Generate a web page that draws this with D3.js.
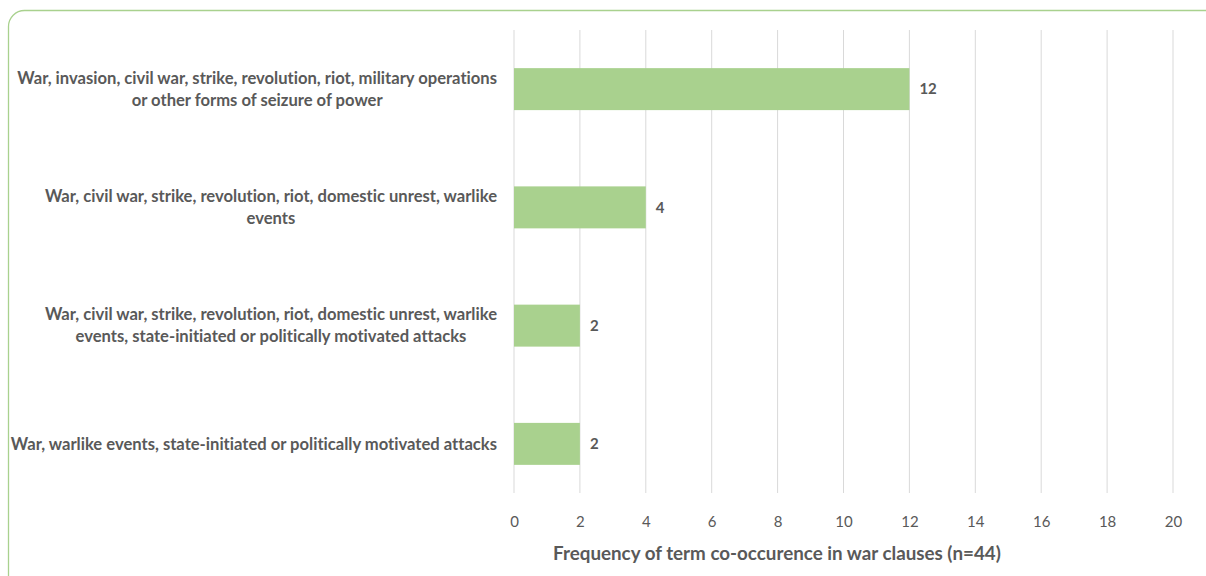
<!DOCTYPE html>
<html><head><meta charset="utf-8">
<script src="https://cdn.jsdelivr.net/npm/d3@7"></script>
<style>body{margin:0;background:#fff;} svg{display:block;} text{font-variant-ligatures:none;font-feature-settings:"liga" 0,"dlig" 0;}</style>
</head><body>
<svg id="c" width="1206" height="576"></svg>
<script>
const categories = [
  ["War, invasion, civil war, strike, revolution, riot, military operations", "or other forms of seizure of power"],
  ["War, civil war, strike, revolution, riot, domestic unrest, warlike", "events"],
  ["War, civil war, strike, revolution, riot, domestic unrest, warlike", "events, state-initiated or politically motivated attacks"],
  ["War, warlike events, state-initiated or politically motivated attacks"]
];
const values = [12, 4, 2, 2];
const tickValues = [0, 2, 4, 6, 8, 10, 12, 14, 16, 18, 20];
const axisTitle = "Frequency of term co-occurence in war clauses (n=44)";

const svg = d3.select("#c");
const FONT = "Lato, 'Open Sans', sans-serif";
const TXT = "#595959";
const GREEN = "#a9d18e";

// outer rounded frame
svg.append("rect").attr("x", 8.5).attr("y", 10.5).attr("width", 1240).attr("height", 600)
  .attr("rx", 16).attr("fill", "none").attr("stroke", GREEN).attr("stroke-width", 1.3);

const x = d3.scaleLinear().domain([0, 20]).range([514, 1173]);
const y = d3.scaleBand().domain(d3.range(categories.length)).range([30, 503]).paddingInner(0.645).paddingOuter(0.3225);

// gridlines
svg.append("g").selectAll("line").data(tickValues).join("line")
  .attr("x1", d => x(d)).attr("x2", d => x(d)).attr("y1", 30).attr("y2", 493)
  .attr("stroke", "#d9d9d9").attr("stroke-width", 1);

// bars
svg.append("g").selectAll("rect").data(values).join("rect")
  .attr("x", x(0)).attr("y", (d, i) => y(i)).attr("width", d => x(d) - x(0)).attr("height", y.bandwidth())
  .attr("fill", GREEN);

// value labels
svg.append("g").selectAll("text").data(values).join("text")
  .attr("x", d => x(d) + 10).attr("y", (d, i) => y(i) + y.bandwidth() / 2).attr("dy", "0.35em")
  .attr("font-family", FONT).attr("font-weight", "bold").attr("font-size", 15).attr("fill", TXT)
  .text(d => d);

// x axis tick labels
const xAxis = d3.axisBottom(x).tickValues(tickValues).tickSize(0).tickPadding(0);
const gx = svg.append("g").attr("transform", "translate(0,516)").call(xAxis);
gx.select(".domain").remove();
gx.selectAll("text").attr("font-family", FONT).attr("font-size", 15).attr("fill", TXT);

// axis title
svg.append("text").attr("x", 777).attr("y", 560).attr("text-anchor", "middle")
  .attr("font-family", FONT).attr("font-weight", "bold").attr("font-size", 18.8).attr("fill", TXT)
  .text(axisTitle);

// category labels: block right-aligned at 497, lines centered within block
const lab = svg.append("g");
categories.forEach((lines, i) => {
  const cy = y(i) + y.bandwidth() / 2;
  const lh = 22;
  const g = lab.append("g");
  const texts = lines.map((t, k) => g.append("text")
    .attr("y", cy + (k - (lines.length - 1) / 2) * lh).attr("dy", "0.35em")
    .attr("text-anchor", "middle")
    .attr("font-family", FONT).attr("font-weight", "bold").attr("font-size", 16.6).attr("fill", TXT)
    .text(t));
  const maxW = d3.max(texts, t => t.node().getComputedTextLength());
  texts.forEach(t => t.attr("x", 497 - maxW / 2));
});
</script>
</body></html>
